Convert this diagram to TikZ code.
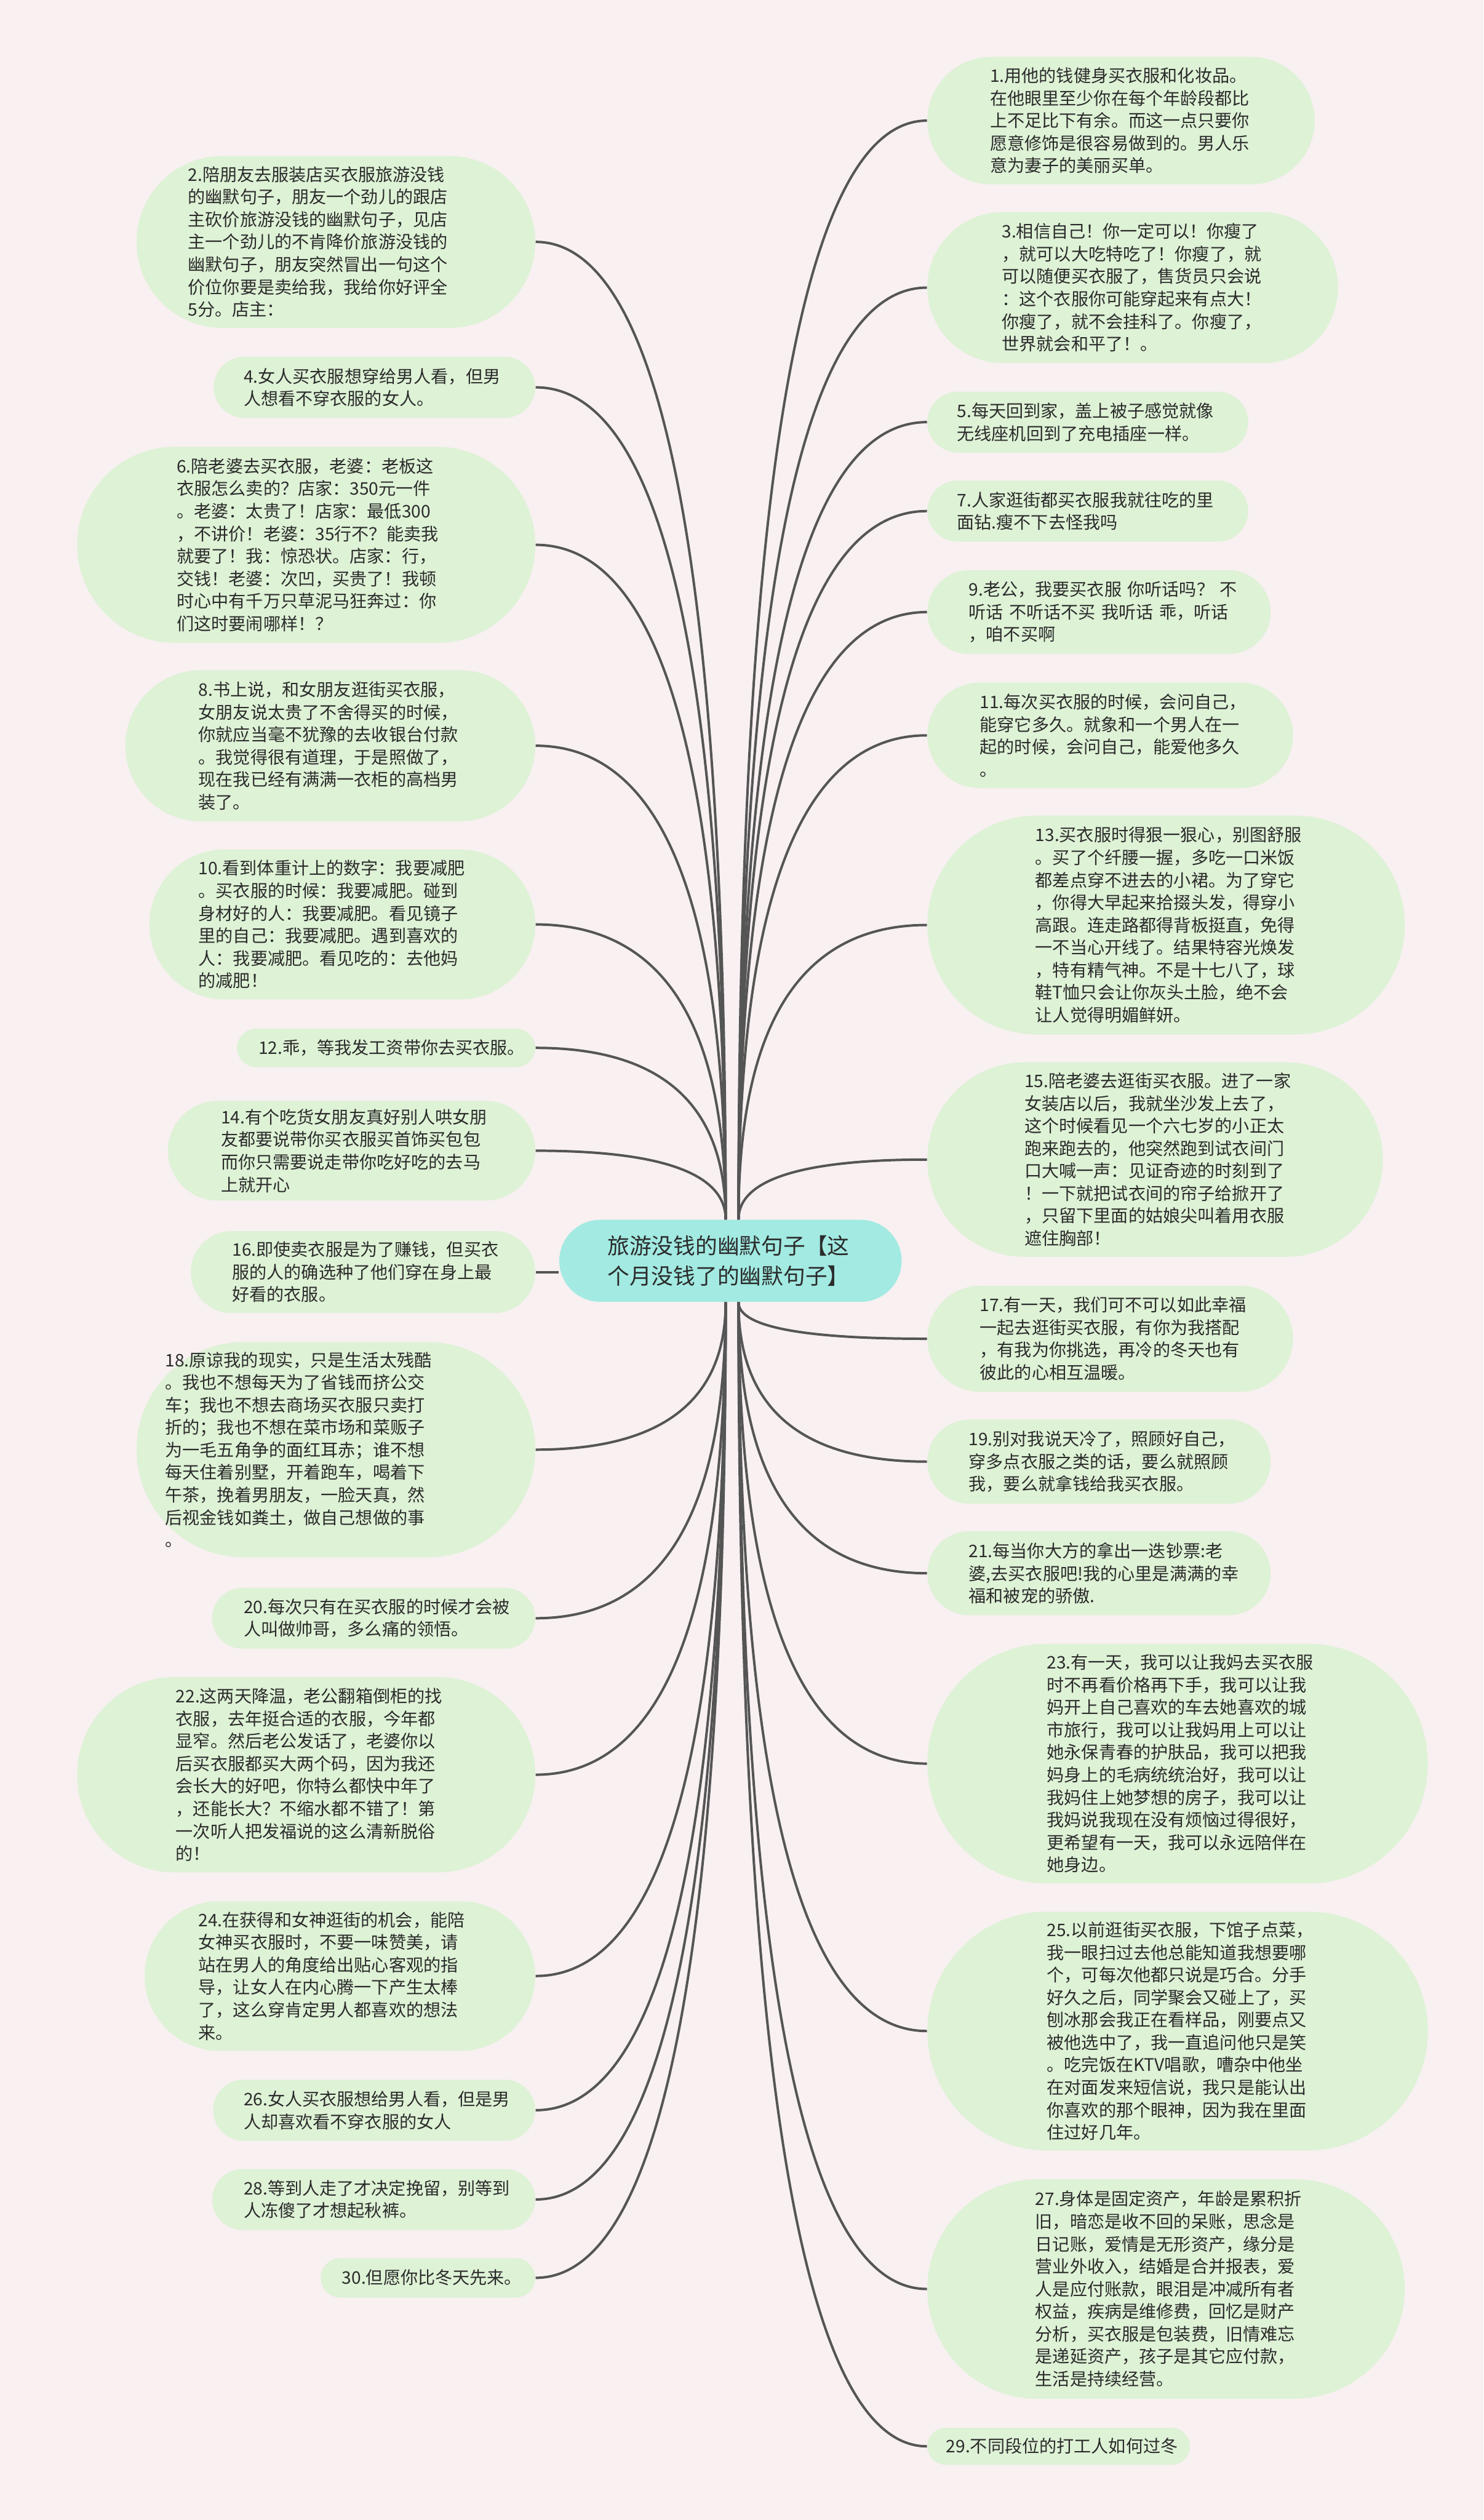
\documentclass[tikz,border=0pt]{standalone}
\usepackage{fontspec}
\setmainfont{Noto Sans CJK SC}
\usetikzlibrary{calc}
\definecolor{bgc}{HTML}{F8F0F1}
\definecolor{bubfill}{HTML}{DEF2D6}
\definecolor{cenfill}{HTML}{A2EAE2}
\definecolor{txt}{HTML}{2B2B2B}
\definecolor{linec}{HTML}{555555}
\newcommand\bub[7]{%
  \pgfmathsetmacro\bubW{(#4-#2)*0.02774}%
  \pgfmathsetmacro\bubH{(#5-#3)*0.02774}%
  \pgfmathsetmacro\bubR{(#5-#3)*0.5*0.02774}%
  \pgfmathsetmacro\bubT{((#2+#4)-2*#6)*0.02774}%
  \pgfmathsetmacro\bubX{(#2+#4)/2}%
  \pgfmathsetmacro\bubY{(#3+#5)/2}%
  \node[bubble, minimum width=\bubW cm, minimum height=\bubH cm, rounded corners=\bubR cm, text width=\bubT cm] (#1) at (\bubX,\bubY) {#7};%
}
\newcommand\qlink[2]{%
  \coordinate (qq) at (#1 |- #2);%
  \draw[link] (#1) .. controls ($(#1)!0.6667!(qq)$) and ($(#2)!0.6667!(qq)$) .. (#2);%
}
\begin{document}
\begin{tikzpicture}[x=0.02774cm,y=-0.02774cm,
  bubble/.style={fill=bubfill, inner sep=0pt, align=left, text=txt, font=\fontsize{8.5}{11.05}\selectfont},
  centre/.style={fill=cenfill, inner sep=0pt, align=left, text=txt, font=\fontsize{10.8}{14.8}\selectfont},
  link/.style={draw=linec, line width=1.2pt}]
\fill[bgc] (0,0) rectangle (923,1568);
\useasboundingbox (0,0) rectangle (923,1568);

% centre
\pgfmathsetmacro\cW{(561-348)*0.02774}
\pgfmathsetmacro\cH{(810-759)*0.02774}
\pgfmathsetmacro\cR{(810-759)*0.5*0.02774}
\pgfmathsetmacro\cT{((348+561)-2*378)*0.02774}
\node[centre, minimum width=\cW cm, minimum height=\cH cm, rounded corners=\cR cm, text width=\cT cm] (c) at (454.5,784.5) {旅游没钱的幽默句子【这\\个月没钱了的幽默句子】};

% left column
\bub{n2}{85}{97}{333}{204}{117}{2.陪朋友去服装店买衣服旅游没钱\\的幽默句子，朋友一个劲儿的跟店\\主砍价旅游没钱的幽默句子，见店\\主一个劲儿的不肯降价旅游没钱的\\幽默句子，朋友突然冒出一句这个\\价位你要是卖给我，我给你好评全\\5分。店主：}
\bub{n4}{133}{222}{333}{260}{151.6}{4.女人买衣服想穿给男人看，但男\\人想看不穿衣服的女人。}
\bub{n6}{48}{278}{333}{400}{110}{6.陪老婆去买衣服，老婆：老板这\\衣服怎么卖的？店家：350元一件\\。老婆：太贵了！店家：最低300\\，不讲价！老婆：35行不？能卖我\\就要了！我：惊恐状。店家：行，\\交钱！老婆：次凹，买贵了！我顿\\时心中有千万只草泥马狂奔过：你\\们这时要闹哪样！？}
\bub{n8}{78}{417}{333}{511}{123.5}{8.书上说，和女朋友逛街买衣服，\\女朋友说太贵了不舍得买的时候，\\你就应当毫不犹豫的去收银台付款\\。我觉得很有道理，于是照做了，\\现在我已经有满满一衣柜的高档男\\装了。}
\bub{n10}{93}{528.6}{333}{621.8}{123.5}{10.看到体重计上的数字：我要减肥\\。买衣服的时候：我要减肥。碰到\\身材好的人：我要减肥。看见镜子\\里的自己：我要减肥。遇到喜欢的\\人：我要减肥。看见吃的：去他妈\\的减肥！}
\bub{n12}{147.5}{640}{333}{664}{160.8}{12.乖，等我发工资带你去买衣服。}
\bub{n14}{104.5}{685}{333}{747}{137.5}{14.有个吃货女朋友真好别人哄女朋\\友都要说带你买衣服买首饰买包包\\而你只需要说走带你吃好吃的去马\\上就开心}
\bub{n16}{118.7}{766}{333}{817}{144.5}{16.即使卖衣服是为了赚钱，但买衣\\服的人的确选种了他们穿在身上最\\好看的衣服。}
\bub{n18}{85}{835}{333}{969}{102.8}{18.原谅我的现实，只是生活太残酷\\。我也不想每天为了省钱而挤公交\\车；我也不想去商场买衣服只卖打\\折的；我也不想在菜市场和菜贩子\\为一毛五角争的面红耳赤；谁不想\\每天住着别墅，开着跑车，喝着下\\午茶，挽着男朋友，一脸天真，然\\后视金钱如粪土，做自己想做的事\\。}
\bub{n20}{132}{988}{333}{1025.8}{151.6}{20.每次只有在买衣服的时候才会被\\人叫做帅哥，多么痛的领悟。}
\bub{n22}{48}{1043.5}{333}{1165}{109.4}{22.这两天降温，老公翻箱倒柜的找\\衣服，去年挺合适的衣服，今年都\\显窄。然后老公发话了，老婆你以\\后买衣服都买大两个码，因为我还\\会长大的好吧，你特么都快中年了\\，还能长大？不缩水都不错了！第\\一次听人把发福说的这么清新脱俗\\的！}
\bub{n24}{90}{1183}{333}{1276}{123.5}{24.在获得和女神逛街的机会，能陪\\女神买衣服时，不要一味赞美，请\\站在男人的角度给出贴心客观的指\\导，让女人在内心腾一下产生太棒\\了，这么穿肯定男人都喜欢的想法\\来。}
\bub{n26}{132.6}{1294}{333}{1332}{151.6}{26.女人买衣服想给男人看，但是男\\人却喜欢看不穿衣服的女人}
\bub{n28}{132}{1349.6}{333}{1387.5}{151.6}{28.等到人走了才决定挽留，别等到\\人冻傻了才想起秋裤。}
\bub{n30}{199.6}{1405}{333}{1429.6}{212.8}{30.但愿你比冬天先来。}

% right column
\bub{n1}{577}{35.4}{818}{114.7}{616}{1.用他的钱健身买衣服和化妆品。\\在他眼里至少你在每个年龄段都比\\上不足比下有余。而这一点只要你\\愿意修饰是很容易做到的。男人乐\\意为妻子的美丽买单。}
\bub{n3}{577}{132}{832.5}{225.9}{623.4}{3.相信自己！你一定可以！你瘦了\\，就可以大吃特吃了！你瘦了，就\\可以随便买衣服了，售货员只会说\\：这个衣服你可能穿起来有点大！\\你瘦了，就不会挂科了。你瘦了，\\世界就会和平了！。}
\bub{n5}{577}{243.7}{776.6}{281.6}{595.5}{5.每天回到家，盖上被子感觉就像\\无线座机回到了充电插座一样。}
\bub{n7}{577}{299}{776.6}{337}{595.5}{7.人家逛街都买衣服我就往吃的里\\面钻.瘦不下去怪我吗}
\bub{n9}{577}{354.8}{790.6}{406.9}{602.8}{9.老公，我要买衣服~你听话吗？~不\\听话~不听话不买~我听话~乖，听话\\，咱不买啊}
\bub{n11}{577}{424.7}{804.5}{490.4}{609.7}{11.每次买衣服的时候，会问自己，\\能穿它多久。就象和一个男人在一\\起的时候，会问自己，能爱他多久\\。}
\bub{n13}{577}{507.5}{874}{643.6}{644.2}{13.买衣服时得狠一狠心，别图舒服\\。买了个纤腰一握，多吃一口米饭\\都差点穿不进去的小裙。为了穿它\\，你得大早起来拾掇头发，得穿小\\高跟。连走路都得背板挺直，免得\\一不当心开线了。结果特容光焕发\\，特有精气神。不是十七八了，球\\鞋T恤只会让你灰头土脸，绝不会\\让人觉得明媚鲜妍。}
\bub{n15}{577}{661}{860.4}{782}{637.5}{15.陪老婆去逛街买衣服。进了一家\\女装店以后，我就坐沙发上去了，\\这个时候看见一个六七岁的小正太\\跑来跑去的，他突然跑到试衣间门\\口大喊一声：见证奇迹的时刻到了\\！一下就把试衣间的帘子给掀开了\\，只留下里面的姑娘尖叫着用衣服\\遮住胸部！}
\bub{n17}{577}{800}{804.5}{866}{609.7}{17.有一天，我们可不可以如此幸福\\一起去逛街买衣服，有你为我搭配\\，有我为你挑选，再冷的冬天也有\\彼此的心相互温暖。}
\bub{n19}{577}{883.3}{790.6}{935.6}{602.8}{19.别对我说天冷了，照顾好自己，\\穿多点衣服之类的话，要么就照顾\\我，要么就拿钱给我买衣服。}
\bub{n21}{577}{952.8}{790.6}{1005}{602.8}{21.每当你大方的拿出一迭钞票:老\\婆,去买衣服吧!我的心里是满满的幸\\福和被宠的骄傲.}
\bub{n23}{577}{1022.8}{888.4}{1171.9}{651.4}{23.有一天，我可以让我妈去买衣服\\时不再看价格再下手，我可以让我\\妈开上自己喜欢的车去她喜欢的城\\市旅行，我可以让我妈用上可以让\\她永保青春的护肤品，我可以把我\\妈身上的毛病统统治好，我可以让\\我妈住上她梦想的房子，我可以让\\我妈说我现在没有烦恼过得很好，\\更希望有一天，我可以永远陪伴在\\她身边。}
\bub{n25}{577}{1189.5}{888.4}{1338}{651.4}{25.以前逛街买衣服，下馆子点菜，\\我一眼扫过去他总能知道我想要哪\\个，可每次他都只说是巧合。分手\\好久之后，同学聚会又碰上了，买\\刨冰那会我正在看样品，刚要点又\\被他选中了，我一直追问他只是笑\\。吃完饭在KTV唱歌，嘈杂中他坐\\在对面发来短信说，我只是能认出\\你喜欢的那个眼神，因为我在里面\\住过好几年。}
\bub{n27}{577}{1356}{874}{1492.5}{644.2}{27.身体是固定资产，年龄是累积折\\旧，暗恋是收不回的呆账，思念是\\日记账，爱情是无形资产，缘分是\\营业外收入，结婚是合并报表，爱\\人是应付账款，眼泪是冲减所有者\\权益，疾病是维修费，回忆是财产\\分析，买衣服是包装费，旧情难忘\\是递延资产，孩子是其它应付款，\\生活是持续经营。}
\bub{n29}{577}{1510.6}{740.4}{1533.7}{588.7}{29.不同段位的打工人如何过冬}

% connector start points
\coordinate (ctl) at ($(c.north)+(-3,0)$);
\coordinate (ctr) at ($(c.north)+(5,0)$);
\coordinate (cbl) at ($(c.south)+(-3,0)$);
\coordinate (cbr) at ($(c.south)+(5,0)$);

\foreach \n in {n2,n4,n6,n8,n10,n12,n14} {\qlink{ctl}{\n.east}}
\foreach \n in {n1,n3,n5,n7,n9,n11,n13,n15} {\qlink{ctr}{\n.west}}
\foreach \n in {n18,n20,n22,n24,n26,n28,n30} {\qlink{cbl}{\n.east}}
\foreach \n in {n17,n19,n21,n23,n25,n27,n29} {\qlink{cbr}{\n.west}}
\draw[link] (n16.east) -- (n16.east -| c.west);
\end{tikzpicture}
\end{document}
